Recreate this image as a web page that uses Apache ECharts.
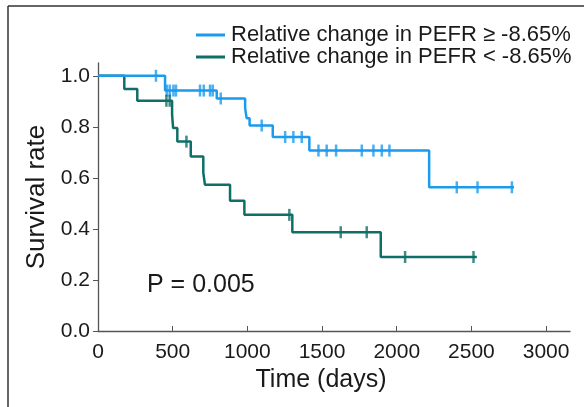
<!DOCTYPE html>
<html><head><meta charset="utf-8">
<script src="https://cdn.jsdelivr.net/npm/echarts@6/dist/echarts.min.js"></script>
<style>html,body{margin:0;padding:0;background:#fff}#c{width:584px;height:407px}</style>
</head><body><div id="c"></div>
<script>
// Series names
const seriesNames = ['Relative change in PEFR \u2265 -8.65%', 'Relative change in PEFR < -8.65%'];
// Blue group: step points [day, survival]
const highSteps = [[0,1.0],[449,0.942],[795,0.911],[985,0.873],[995,0.834],[1015,0.805],[1170,0.76],[1415,0.707],[2217,0.563],[2785,0.563]];
const highCensor = [[388,1.0],[460,0.942],[480,0.942],[505,0.942],[522,0.942],[683,0.942],[708,0.942],[750,0.942],[768,0.942],[822,0.911],[1096,0.805],[1253,0.76],[1308,0.76],[1364,0.76],[1476,0.707],[1531,0.707],[1594,0.707],[1766,0.707],[1844,0.707],[1900,0.707],[1951,0.707],[2402,0.563],[2541,0.563],[2771,0.563]];
// Green group
const lowSteps = [[0,1.0],[176,0.948],[263,0.902],[496,0.848],[503,0.795],[531,0.742],[621,0.684],[705,0.62],[716,0.573],[884,0.51],[980,0.455],[1301,0.387],[1893,0.29],[2536,0.29]];
const lowCensor = [[458,0.902],[480,0.902],[592,0.742],[1281,0.455],[1625,0.387],[1799,0.387],[2056,0.29],[2514,0.29]];
// Axis ticks
const xTicks = [0,500,1000,1500,2000,2500,3000];
const yTicks = [0,0.2,0.4,0.6,0.8,1.0];
const pText = 'P = 0.005';

const blue = '#1a9bee', green = '#0f6e68';
const font = 'Liberation Sans, Arial, sans-serif';
const chart = echarts.init(document.getElementById('c'), null, {renderer:'canvas'});
chart.setOption({
  animation:false,
  grid:{left:98,right:14,top:63,bottom:76},
  legend:{
    data:seriesNames, orient:'vertical', left:191, top:19, itemWidth:29, itemHeight:3, itemGap:0, icon:'rect',
    textStyle:{fontFamily:font,fontSize:22,lineHeight:19,color:'#1a1a1a',padding:[0,0,0,1]}
  },
  xAxis:{type:'value',min:0,max:3160,
    name:'Time (days)',nameLocation:'middle',nameGap:37,nameTextStyle:{fontFamily:font,fontSize:25,color:'#1a1a1a',padding:[0,26,0,0]},
    axisLine:{lineStyle:{color:'#555',width:1.3}},
    axisTick:{inside:true,length:5,lineStyle:{color:'#555'},customValues:xTicks},
    axisLabel:{customValues:xTicks,fontFamily:font,fontSize:21,color:'#1a1a1a',margin:11,formatter:v=>String(v)},
    splitLine:{show:false}},
  yAxis:{type:'value',min:0,max:1.05,
    name:'Survival rate',nameLocation:'middle',nameGap:43,nameTextStyle:{fontFamily:font,fontSize:26,color:'#1a1a1a'},
    axisLine:{show:true,lineStyle:{color:'#555',width:1.3}},
    axisTick:{show:true,inside:false,length:5,lineStyle:{color:'#555'},customValues:yTicks},
    axisLabel:{customValues:yTicks,fontFamily:font,fontSize:21,color:'#1a1a1a',margin:8,formatter:v=>v.toFixed(1)},
    splitLine:{show:false}},
  graphic:[
    {type:'line',shape:{x1:8,y1:6,x2:584,y2:6},style:{stroke:'#333',lineWidth:1.5},silent:true},
    {type:'line',shape:{x1:8,y1:6,x2:8,y2:407},style:{stroke:'#333',lineWidth:1.5},silent:true},
    {type:'text',left:147,top:273,style:{text:pText,font:'25px Liberation Sans, Arial, sans-serif',fill:'#1a1a1a'}}
  ],
  series:[
    {name:seriesNames[0],type:'line',step:'end',data:highSteps,showSymbol:false,lineStyle:{color:blue,width:2.5},itemStyle:{color:blue},z:3},
    {name:seriesNames[1],type:'line',step:'end',data:lowSteps,showSymbol:false,lineStyle:{color:green,width:2.5},itemStyle:{color:green},z:2},
    {type:'scatter',data:highCensor,symbol:'rect',symbolSize:[2.5,12],itemStyle:{color:blue},z:4},
    {type:'scatter',data:lowCensor,symbol:'rect',symbolSize:[2.5,12],itemStyle:{color:green},z:4}
  ]
});
</script></body></html>
